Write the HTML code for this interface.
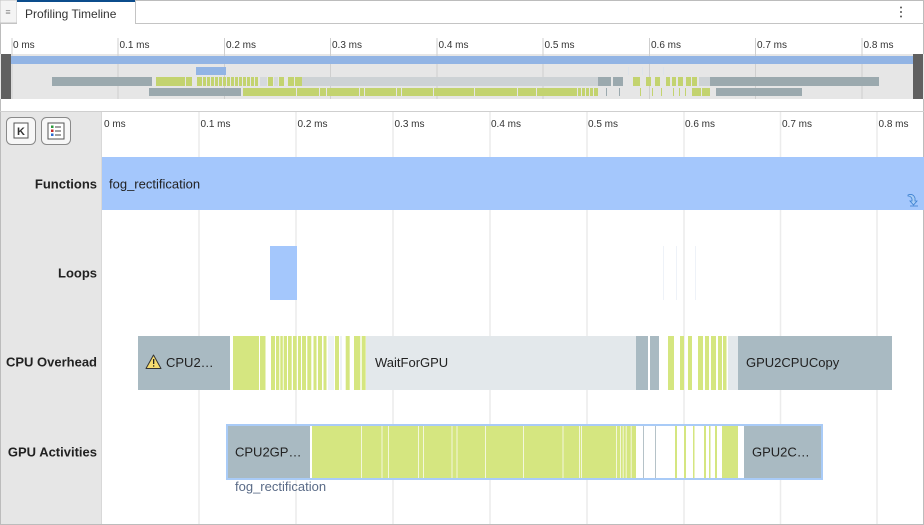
<!DOCTYPE html>
<html><head><meta charset="utf-8">
<style>
html,body{margin:0;padding:0;background:#fff;}
svg{display:block;font-family:"Liberation Sans",sans-serif;}
</style></head><body>
<svg width="924" height="525" viewBox="0 0 924 525" xmlns="http://www.w3.org/2000/svg">
<rect x="0" y="0" width="924" height="525" fill="#fff"/>
<!-- tab bar -->
<rect x="0.5" y="0.5" width="923" height="524" fill="none" stroke="#bcbcbc"/>
<line x1="0" y1="23.5" x2="924" y2="23.5" stroke="#c4c4c4"/>
<rect x="0" y="0" width="17" height="23" fill="#f4f4f4" stroke="#c4c4c4"/>
<text x="8" y="15" font-size="9" fill="#888" text-anchor="middle">≡</text>
<rect x="17" y="0" width="118" height="24" fill="#fff"/>
<line x1="135.5" y1="0" x2="135.5" y2="24" stroke="#c4c4c4"/>
<rect x="17" y="0" width="118" height="2" fill="#0b4c8c"/>
<text x="25" y="18" font-size="12" fill="#333">Profiling Timeline</text>
<circle cx="901" cy="7.5" r="1" fill="#555"/><circle cx="901" cy="12" r="1" fill="#555"/><circle cx="901" cy="16.5" r="1" fill="#555"/>

<!-- overview -->
<rect x="0" y="54" width="924" height="45" fill="#e6e6e6"/>
<g stroke="#cfcfcf" stroke-width="1">
<line x1="12" y1="38" x2="12" y2="99"/><line x1="118" y1="38" x2="118" y2="99"/><line x1="224.5" y1="38" x2="224.5" y2="99"/><line x1="330.5" y1="38" x2="330.5" y2="99"/><line x1="437" y1="38" x2="437" y2="99"/><line x1="543" y1="38" x2="543" y2="99"/><line x1="649.5" y1="38" x2="649.5" y2="99"/><line x1="755.5" y1="38" x2="755.5" y2="99"/><line x1="862" y1="38" x2="862" y2="99"/>
</g>
<g font-size="10" fill="#333">
<text x="13" y="48">0 ms</text><text x="119.5" y="48">0.1 ms</text><text x="226" y="48">0.2 ms</text><text x="332" y="48">0.3 ms</text><text x="438.5" y="48">0.4 ms</text><text x="544.5" y="48">0.5 ms</text><text x="651" y="48">0.6 ms</text><text x="757" y="48">0.7 ms</text><text x="863.5" y="48">0.8 ms</text>
</g>
<rect x="11" y="56" width="902" height="8" fill="#92b4e4"/>
<rect x="196" y="67" width="30" height="8" fill="#92b4e4"/>
<rect x="628" y="67" width="1" height="8" fill="#dde3ea"/><rect x="642" y="67" width="1" height="8" fill="#dde3ea"/><rect x="663" y="67" width="1" height="8" fill="#dde3ea"/>
<!-- row 3 -->
<g>
<rect x="302" y="77" width="296" height="9" fill="#cdd2d5"/>
<rect x="52" y="77" width="100" height="9" fill="#9ba9ae"/>
<g fill="#c3d36f">
<rect x="156" y="77" width="29" height="9"/><rect x="186" y="77" width="6" height="9"/>
<rect x="197" y="77" width="5" height="9"/><rect x="203" y="77" width="3" height="9"/><rect x="207" y="77" width="3" height="9"/><rect x="211" y="77" width="3" height="9"/><rect x="215" y="77" width="3" height="9"/><rect x="219" y="77" width="3" height="9"/><rect x="223" y="77" width="3" height="9"/><rect x="227" y="77" width="3" height="9"/><rect x="231" y="77" width="3" height="9"/><rect x="235" y="77" width="3" height="9"/><rect x="239" y="77" width="3" height="9"/><rect x="243" y="77" width="3" height="9"/><rect x="247" y="77" width="3" height="9"/><rect x="251" y="77" width="3" height="9"/><rect x="255" y="77" width="3" height="9"/>
<rect x="268" y="77" width="5" height="9"/><rect x="279" y="77" width="5" height="9"/><rect x="288" y="77" width="6" height="9"/><rect x="295" y="77" width="7" height="9"/>
<rect x="633" y="77" width="7" height="9"/><rect x="646" y="77" width="5" height="9"/><rect x="655" y="77" width="5" height="9"/><rect x="666" y="77" width="4" height="9"/><rect x="672" y="77" width="4" height="9"/><rect x="678" y="77" width="5" height="9"/><rect x="686" y="77" width="5" height="9"/><rect x="692" y="77" width="5" height="9"/>
</g>
<rect x="260" y="77" width="7" height="9" fill="#d5d9dc"/><rect x="274" y="77" width="4" height="9" fill="#d5d9dc"/>
<rect x="598" y="77" width="13" height="9" fill="#9ba9ae"/><rect x="613" y="77" width="10" height="9" fill="#9ba9ae"/>
<rect x="699" y="77" width="11" height="9" fill="#cdd2d5"/>
<rect x="710" y="77" width="169" height="9" fill="#9ba9ae"/>
</g>
<!-- row 4 -->
<g>
<rect x="149" y="88" width="92" height="8" fill="#9ba9ae"/>
<rect x="243" y="88" width="355" height="8" fill="#c3d36f"/>
<g fill="#e6e6e6">
<rect x="296" y="88" width="1" height="8"/><rect x="319" y="88" width="1" height="8"/><rect x="326" y="88" width="1" height="8"/><rect x="359" y="88" width="1" height="8"/><rect x="364" y="88" width="1" height="8"/><rect x="396" y="88" width="1" height="8"/><rect x="401" y="88" width="1" height="8"/><rect x="433" y="88" width="1" height="8"/><rect x="474" y="88" width="1" height="8"/><rect x="517" y="88" width="1" height="8"/><rect x="536" y="88" width="1" height="8"/><rect x="577" y="88" width="1" height="8"/><rect x="581" y="88" width="1" height="8"/><rect x="585" y="88" width="1" height="8"/><rect x="589" y="88" width="1" height="8"/><rect x="593" y="88" width="1" height="8"/>
</g>
<rect x="606" y="88" width="1" height="8" fill="#9ba9ae"/><rect x="619" y="88" width="1" height="8" fill="#9ba9ae"/>
<g fill="#c3d36f">
<rect x="640" y="88" width="1" height="8"/><rect x="652" y="88" width="1" height="8"/><rect x="661" y="88" width="1" height="8"/><rect x="673" y="88" width="1" height="8"/><rect x="679" y="88" width="1" height="8"/><rect x="685" y="88" width="1" height="8"/>
<rect x="692" y="88" width="9" height="8"/><rect x="702" y="88" width="8" height="8"/>
</g>
<rect x="716" y="88" width="86" height="8" fill="#9ba9ae"/>
</g>
<rect x="1" y="54" width="10" height="45" fill="#606060"/>
<rect x="913" y="54" width="10" height="45" fill="#606060"/>

<!-- main area -->
<line x1="0" y1="111.5" x2="924" y2="111.5" stroke="#cfcfcf"/>
<rect x="1" y="112" width="100" height="412" fill="#e6e6e6"/>
<line x1="101.5" y1="112" x2="101.5" y2="524" stroke="#d8d8d8"/>
<rect x="6.5" y="117.5" width="29" height="27" rx="5" fill="#f7f7f7" stroke="#8a8a8a"/>
<rect x="14" y="123" width="14" height="15" fill="#fff" stroke="#555" stroke-width="1"/>
<text x="21" y="135" font-size="11" font-weight="bold" fill="#333" text-anchor="middle">K</text>
<rect x="41.5" y="117.5" width="29" height="27" rx="5" fill="#f7f7f7" stroke="#8a8a8a"/>
<rect x="48" y="123" width="16" height="16" fill="#fff" stroke="#555"/>
<rect x="51" y="125.5" width="2.5" height="2.5" fill="#2a9a3a"/><rect x="51" y="129.5" width="2.5" height="2.5" fill="#c0282a"/><rect x="51" y="133.5" width="2.5" height="2.5" fill="#2a6ad0"/>
<line x1="55" y1="127" x2="61" y2="127" stroke="#444"/><line x1="55" y1="131" x2="61" y2="131" stroke="#444"/><line x1="55" y1="135" x2="61" y2="135" stroke="#444"/>

<g stroke="#ececec" stroke-width="1.5">
<line x1="199" y1="112" x2="199" y2="524"/><line x1="296" y1="112" x2="296" y2="524"/><line x1="393" y1="112" x2="393" y2="524"/><line x1="490" y1="112" x2="490" y2="524"/><line x1="587" y1="112" x2="587" y2="524"/><line x1="684" y1="112" x2="684" y2="524"/><line x1="780.5" y1="112" x2="780.5" y2="524"/><line x1="877" y1="112" x2="877" y2="524"/>
</g>
<g font-size="10" fill="#333">
<text x="104" y="127">0 ms</text><text x="200.5" y="127">0.1 ms</text><text x="297.5" y="127">0.2 ms</text><text x="394.5" y="127">0.3 ms</text><text x="491" y="127">0.4 ms</text><text x="588" y="127">0.5 ms</text><text x="685" y="127">0.6 ms</text><text x="782" y="127">0.7 ms</text><text x="878.5" y="127">0.8 ms</text>
</g>

<g font-size="13" font-weight="bold" fill="#222" text-anchor="end">
<text x="97" y="188.5">Functions</text>
<text x="97" y="277.5">Loops</text>
<text x="97" y="366.5">CPU Overhead</text>
<text x="97" y="456.5">GPU Activities</text>
</g>

<!-- Functions -->
<rect x="102" y="157" width="822" height="53" fill="#a4c7fc"/>
<text x="109" y="188.5" font-size="13" fill="#222">fog_rectification</text>
<path d="M908 195 q5 -2 7 3 l0 3 l2 0 l-3.5 4 l-3.5 -4 l2 0 l0 -2 q-1 -3 -4 -3 z" fill="#a9cdf5" stroke="#3a7fd0" stroke-width="0.8"/>
<line x1="910" y1="206" x2="918" y2="206" stroke="#3a7fd0" stroke-width="0.8"/>

<!-- Loops -->
<rect x="270" y="246" width="27" height="54" fill="#a4c7fc"/>
<rect x="663" y="246" width="1" height="54" fill="#eef2f8"/><rect x="676" y="246" width="1" height="54" fill="#eef2f8"/><rect x="695" y="246" width="1" height="54" fill="#eef2f8"/>

<!-- CPU Overhead -->
<rect x="138" y="336" width="92" height="54" fill="#a9bac2"/>
<path d="M153.5 355 L161 368.5 L146 368.5 Z" fill="#f7dc6f" stroke="#333" stroke-width="1" stroke-linejoin="round"/>
<rect x="153" y="359" width="1.3" height="5" fill="#222"/><rect x="153" y="365.3" width="1.3" height="1.3" fill="#222"/>
<text x="166" y="367" font-size="13" fill="#222">CPU2…</text>
<g fill="#d5e680">
<rect x="233" y="336" width="26" height="54"/><rect x="260" y="336" width="5.5" height="54"/>
<rect x="271" y="336" width="4" height="54"/><rect x="276" y="336" width="3.3" height="54"/><rect x="280.3" y="336" width="2.5" height="54"/><rect x="283.7" y="336" width="3.3" height="54"/><rect x="288" y="336" width="3.7" height="54"/><rect x="293" y="336" width="3.7" height="54"/><rect x="298" y="336" width="3" height="54"/><rect x="302" y="336" width="4" height="54"/><rect x="307.3" y="336" width="4" height="54"/><rect x="313.5" y="336" width="3" height="54"/><rect x="318" y="336" width="4" height="54"/><rect x="323.5" y="336" width="3" height="54"/>
<rect x="335" y="336" width="4" height="54"/><rect x="345.7" y="336" width="4" height="54"/><rect x="354" y="336" width="6.3" height="54"/><rect x="361.7" y="336" width="4" height="54"/>
<rect x="668" y="336" width="6" height="54"/><rect x="680" y="336" width="4" height="54"/><rect x="688" y="336" width="4" height="54"/><rect x="698" y="336" width="5" height="54"/><rect x="705" y="336" width="4" height="54"/><rect x="711" y="336" width="5" height="54"/><rect x="718" y="336" width="4" height="54"/><rect x="723" y="336" width="3.5" height="54"/>
</g>
<rect x="328" y="336" width="6" height="54" fill="#eef2f6"/><rect x="340" y="336" width="2" height="54" fill="#eef2f6"/>
<rect x="366" y="336" width="270" height="54" fill="#e3e8eb"/>
<text x="375" y="367" font-size="13" fill="#222">WaitForGPU</text>
<rect x="636" y="336" width="12" height="54" fill="#a9bac2"/>
<rect x="650" y="336" width="9" height="54" fill="#a9bac2"/>
<rect x="728" y="336" width="10" height="54" fill="#e3e8eb"/>
<rect x="738" y="336" width="154" height="54" fill="#a9bac2"/>
<text x="746" y="367" font-size="13" fill="#222">GPU2CPUCopy</text>

<!-- GPU Activities -->
<rect x="227" y="425" width="595" height="54" fill="#fff" stroke="#a9cbf7" stroke-width="2"/>
<rect x="228" y="426" width="82" height="52" fill="#a9bac2"/>
<text x="235" y="456.5" font-size="13" fill="#222">CPU2GP…</text>
<rect x="312" y="426" width="324" height="52" fill="#d5e680"/>
<g fill="#f3f7dc">
<rect x="361" y="426" width="1" height="52"/><rect x="381.5" y="426" width="1" height="52"/><rect x="388" y="426" width="1" height="52"/><rect x="418" y="426" width="1" height="52"/><rect x="423" y="426" width="1" height="52"/><rect x="451.5" y="426" width="1" height="52"/><rect x="456.5" y="426" width="1" height="52"/><rect x="485" y="426" width="1" height="52"/><rect x="523" y="426" width="1" height="52"/><rect x="562.5" y="426" width="1" height="52"/><rect x="579" y="426" width="1" height="52"/><rect x="581" y="426" width="1" height="52"/><rect x="616" y="426" width="1" height="52"/><rect x="620" y="426" width="1" height="52"/><rect x="622.7" y="426" width="1" height="52"/><rect x="625.7" y="426" width="1" height="52"/><rect x="630.7" y="426" width="1" height="52"/>
</g>
<rect x="643" y="426" width="1" height="52" fill="#b5c2c8"/><rect x="655" y="426" width="1" height="52" fill="#b5c2c8"/>
<g fill="#d5e680">
<rect x="675" y="426" width="2" height="52"/><rect x="684" y="426" width="2" height="52"/><rect x="693" y="426" width="1.5" height="52"/><rect x="704" y="426" width="2" height="52"/><rect x="709" y="426" width="1.5" height="52"/><rect x="715" y="426" width="2" height="52"/><rect x="722" y="426" width="16" height="52"/>
</g>
<rect x="744" y="426" width="77" height="52" fill="#a9bac2"/>
<text x="752" y="456.5" font-size="13" fill="#222">GPU2C…</text>
<text x="235" y="491" font-size="13" fill="#5a6b87">fog_rectification</text>
</svg>
</body></html>
